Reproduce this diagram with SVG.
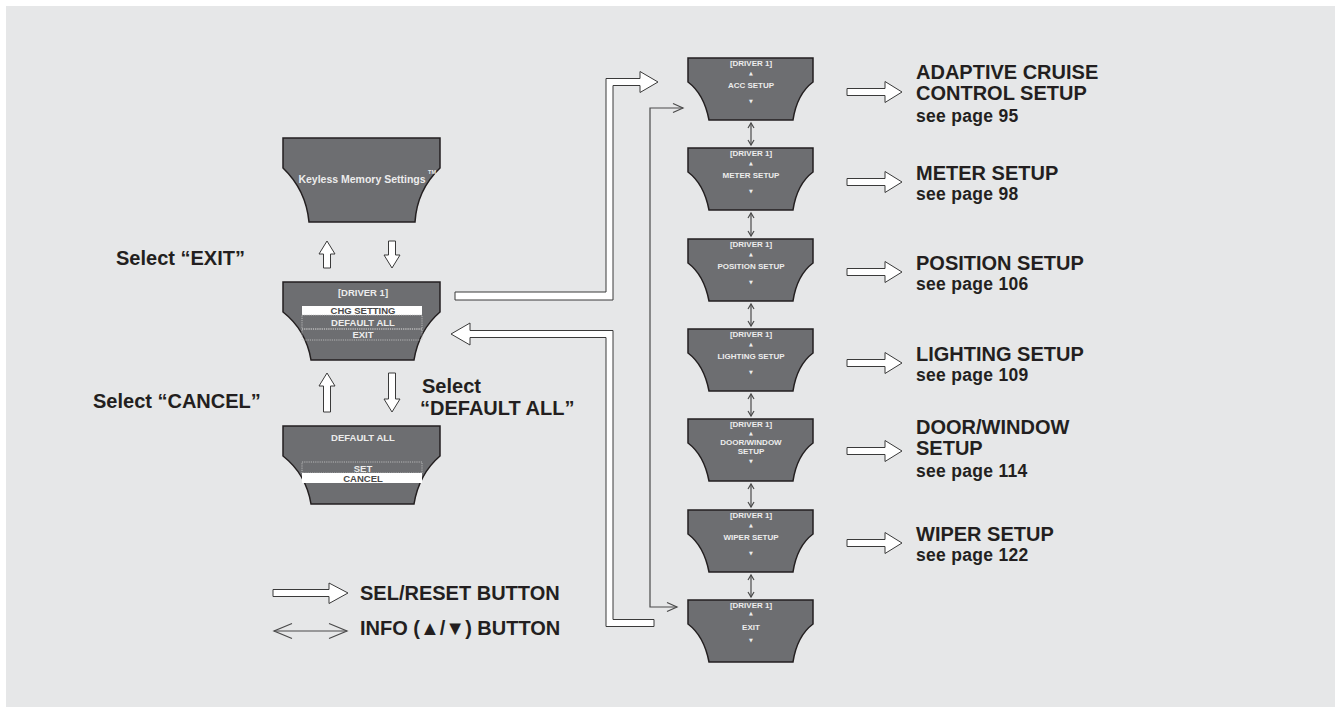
<svg xmlns="http://www.w3.org/2000/svg" xmlns:xlink="http://www.w3.org/1999/xlink" width="1341" height="713" viewBox="0 0 1341 713">
<style>
.scr{fill:#6d6e71;stroke:#231f20;stroke-width:1.5}
.st{font-family:"Liberation Sans",Arial,sans-serif;fill:#ececec;text-anchor:middle;font-weight:bold}
.tri{font-family:"DejaVu Sans",sans-serif;fill:#ececec;text-anchor:middle}
.lbl{font-family:"Liberation Sans",Arial,sans-serif;font-weight:bold;fill:#231f20;font-size:20px}
.pg{font-family:"Liberation Sans",Arial,sans-serif;font-weight:bold;fill:#231f20;font-size:17.5px;letter-spacing:0.3px}
.hol{fill:#ffffff;stroke:#3a3a3a;stroke-width:1}
.thin{fill:none;stroke:#4a4a4a;stroke-width:1.2}
.dot{fill:none;stroke:#c8c8c8;stroke-width:0.8;stroke-dasharray:1.2,1}
.wbox{fill:#ffffff}
</style>
<defs>
<path id="scrR" class="scr" d="M0,0 H125 V24 Q109,36 105,62 H21 Q16,36 0,24 Z"/>
<path id="scrL" class="scr" d="M0,0 H157 V30 Q136,48 131,78 H28 Q23,48 0,30 Z"/>
</defs>
<rect x="0" y="0" width="1341" height="713" fill="#ffffff"/>
<rect x="6" y="6" width="1329" height="701" fill="#e6e7e8"/>

<g id="keyless">
<path class="scr" d="M283,138 H440 V168 Q417,190 415,222 H309 Q306,190 283,168 Z"/>
<text class="st" x="362" y="183" font-size="10.5">Keyless Memory Settings</text>
<text class="st" x="432" y="174" font-size="5.5">TM</text>
</g>

<g id="driver1" transform="translate(283,282)">
<use xlink:href="#scrL"/>
<text class="st" x="80" y="14" font-size="9.5">[DRIVER 1]</text>
<rect class="wbox" x="19" y="24" width="120" height="9"/>
<text class="st" x="80" y="32" font-size="9.5" style="fill:#4a4a4a">CHG SETTING</text>
<rect class="dot" x="19" y="33" width="120" height="14"/>
<text class="st" x="80" y="44" font-size="9.5">DEFAULT ALL</text>
<rect class="dot" x="19" y="47" width="120" height="11"/>
<text class="st" x="80" y="56" font-size="9.5">EXIT</text>
</g>

<g id="defaultall" transform="translate(283,426)">
<use xlink:href="#scrL"/>
<text class="st" x="80" y="15" font-size="9.5">DEFAULT ALL</text>
<rect class="dot" x="19" y="36" width="120" height="11"/>
<text class="st" x="80" y="45.5" font-size="9.5">SET</text>
<rect class="wbox" x="19" y="47" width="120" height="10"/>
<text class="st" x="80" y="56" font-size="9.5" style="fill:#4a4a4a">CANCEL</text>
</g>

<g id="acc" transform="translate(688,58)">
<use xlink:href="#scrR"/>
<text class="st" x="63" y="8" font-size="8">[DRIVER 1]</text>
<text class="tri" x="63" y="17" font-size="5">▲</text>
<text class="st" x="63" y="30" font-size="8">ACC SETUP</text>
<text class="tri" x="63" y="45" font-size="5">▼</text>
</g>
<g id="meter" transform="translate(688,148)">
<use xlink:href="#scrR"/>
<text class="st" x="63" y="8" font-size="8">[DRIVER 1]</text>
<text class="tri" x="63" y="17" font-size="5">▲</text>
<text class="st" x="63" y="30" font-size="8">METER SETUP</text>
<text class="tri" x="63" y="45" font-size="5">▼</text>
</g>
<g id="position" transform="translate(688,239)">
<use xlink:href="#scrR"/>
<text class="st" x="63" y="8" font-size="8">[DRIVER 1]</text>
<text class="tri" x="63" y="17" font-size="5">▲</text>
<text class="st" x="63" y="30" font-size="8">POSITION SETUP</text>
<text class="tri" x="63" y="45" font-size="5">▼</text>
</g>
<g id="lighting" transform="translate(688,329)">
<use xlink:href="#scrR"/>
<text class="st" x="63" y="8" font-size="8">[DRIVER 1]</text>
<text class="tri" x="63" y="17" font-size="5">▲</text>
<text class="st" x="63" y="30" font-size="8">LIGHTING SETUP</text>
<text class="tri" x="63" y="45" font-size="5">▼</text>
</g>
<g id="doorwindow" transform="translate(688,419)">
<use xlink:href="#scrR"/>
<text class="st" x="63" y="8" font-size="8">[DRIVER 1]</text>
<text class="tri" x="63" y="16" font-size="5">▲</text>
<text class="st" x="63" y="26" font-size="8">DOOR/WINDOW</text>
<text class="st" x="63" y="35" font-size="8">SETUP</text>
<text class="tri" x="63" y="44" font-size="5">▼</text>
</g>
<g id="wiper" transform="translate(688,510)">
<use xlink:href="#scrR"/>
<text class="st" x="63" y="8" font-size="8">[DRIVER 1]</text>
<text class="tri" x="63" y="17" font-size="5">▲</text>
<text class="st" x="63" y="30" font-size="8">WIPER SETUP</text>
<text class="tri" x="63" y="45" font-size="5">▼</text>
</g>
<g id="exit" transform="translate(688,600)">
<use xlink:href="#scrR"/>
<text class="st" x="63" y="8" font-size="8">[DRIVER 1]</text>
<text class="tri" x="63" y="15" font-size="5">▲</text>
<text class="st" x="63" y="30" font-size="8">EXIT</text>
<text class="tri" x="63" y="42" font-size="5">▼</text>
</g>

<g id="connectors">
<polygon class="hol" points="323.5,268 323.5,254 319,254 327,241 335,254 330.5,254 330.5,268"/>
<polygon class="hol" points="388.5,241 388.5,255 384,255 392,268 400,255 395.5,255 395.5,241"/>
<polygon class="hol" points="323.5,412 323.5,386 319,386 327,373 335,386 330.5,386 330.5,412"/>
<polygon class="hol" points="388.5,373 388.5,399 384,399 392,412 400,399 395.5,399 395.5,373"/>
<polygon class="hol" points="455,300 613,300 613,85.5 640,85.5 640,92.5 658,82 640,71.5 640,78.5 606,78.5 606,292 455,292"/>
<polygon class="hol" points="451,334 470,323 470,330.5 613,330.5 613,619.5 654,619.5 654,626.5 606,626.5 606,337.5 470,337.5 470,345"/>
<polyline class="thin" points="683,108 650,108 650,607 677,607"/>
<polyline class="thin" points="673,103.5 683,108 673,112.5"/>
<polyline class="thin" points="667,602.5 677,607 667,611.5"/>
<g class="thin">
<line x1="751" y1="123" x2="751" y2="145"/><polyline points="748,128 751,123 754,128"/><polyline points="748,140 751,145 754,140"/>
<line x1="751" y1="213" x2="751" y2="236"/><polyline points="748,218 751,213 754,218"/><polyline points="748,231 751,236 754,231"/>
<line x1="751" y1="304" x2="751" y2="326"/><polyline points="748,309 751,304 754,309"/><polyline points="748,321 751,326 754,321"/>
<line x1="751" y1="394" x2="751" y2="416"/><polyline points="748,399 751,394 754,399"/><polyline points="748,411 751,416 754,411"/>
<line x1="751" y1="484" x2="751" y2="507"/><polyline points="748,489 751,484 754,489"/><polyline points="748,502 751,507 754,502"/>
<line x1="751" y1="575" x2="751" y2="597"/><polyline points="748,580 751,575 754,580"/><polyline points="748,592 751,597 754,592"/>
</g>
<polygon class="hol" points="847,88.5 885,88.5 885,81.5 902,92 885,102.5 885,95.5 847,95.5"/>
<polygon class="hol" points="847,178.5 885,178.5 885,171.5 902,182 885,192.5 885,185.5 847,185.5"/>
<polygon class="hol" points="847,268.5 885,268.5 885,261.5 902,272 885,282.5 885,275.5 847,275.5"/>
<polygon class="hol" points="847,359.5 885,359.5 885,352.5 902,363 885,373.5 885,366.5 847,366.5"/>
<polygon class="hol" points="847,447.5 885,447.5 885,440.5 902,451 885,461.5 885,454.5 847,454.5"/>
<polygon class="hol" points="847,539.5 885,539.5 885,532.5 902,543 885,553.5 885,546.5 847,546.5"/>
</g>

<g id="labels">
<text class="lbl" x="116" y="265">Select “EXIT”</text>
<text class="lbl" x="93" y="408">Select “CANCEL”</text>
<text class="lbl" x="422" y="393">Select</text>
<text class="lbl" x="420" y="415">“DEFAULT ALL”</text>
<text class="lbl" x="916" y="79">ADAPTIVE CRUISE</text>
<text class="lbl" x="916" y="100">CONTROL SETUP</text>
<text class="pg" x="916" y="122">see page 95</text>
<text class="lbl" x="916" y="180">METER SETUP</text>
<text class="pg" x="916" y="200">see page 98</text>
<text class="lbl" x="916" y="270">POSITION SETUP</text>
<text class="pg" x="916" y="290">see page 106</text>
<text class="lbl" x="916" y="361">LIGHTING SETUP</text>
<text class="pg" x="916" y="381">see page 109</text>
<text class="lbl" x="916" y="434">DOOR/WINDOW</text>
<text class="lbl" x="916" y="455">SETUP</text>
<text class="pg" x="916" y="477">see page 114</text>
<text class="lbl" x="916" y="541">WIPER SETUP</text>
<text class="pg" x="916" y="561">see page 122</text>
</g>

<g id="legend">
<polygon class="hol" points="273,589.5 329,589.5 329,583 348,593 329,603.5 329,596.5 273,596.5"/>
<line class="thin" x1="274" y1="631" x2="347" y2="631"/>
<polyline class="thin" points="292,623.5 274,631 292,638.5"/>
<polyline class="thin" points="329,623.5 347,631 329,638.5"/>
<text class="lbl" x="360" y="600">SEL/RESET BUTTON</text>
<text class="lbl" x="360" y="635">INFO (▲/▼) BUTTON</text>
</g>
</svg>
